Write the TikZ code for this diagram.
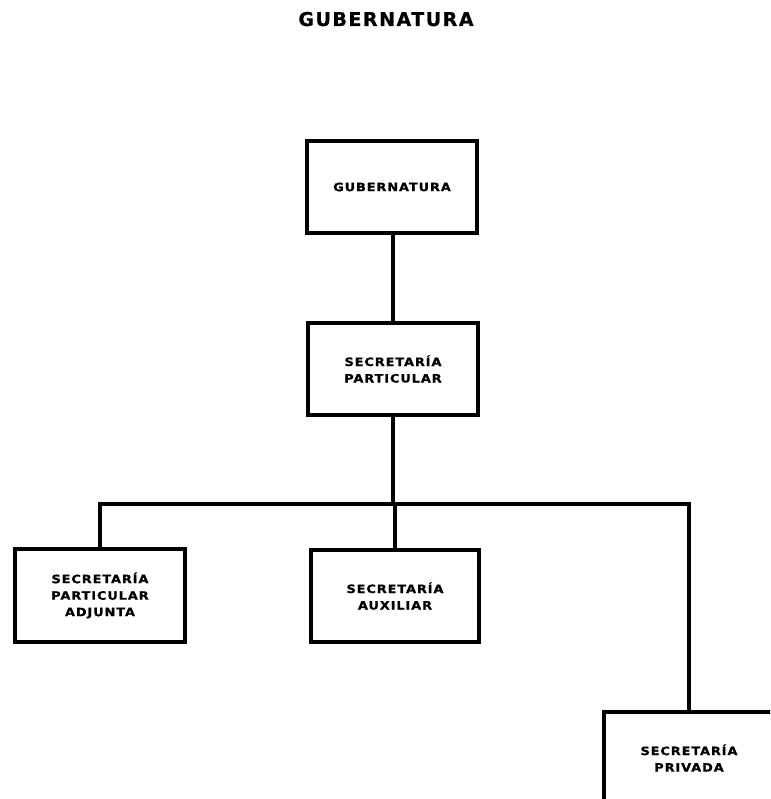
\documentclass[tikz,border=0pt]{standalone}
\usepackage{fontspec}
\newfontfamily\titlefont{DejaVu Sans Bold}[LetterSpace=8, FakeBold=0.5]
\newfontfamily\boxfont{DejaVu Sans Bold}[FakeStretch=1.12, LetterSpace=8, FakeBold=1]
\tikzset{
  orgbox/.style={draw, line width=3.3pt, minimum width=170pt, minimum height=92pt,
    inner sep=0pt, align=center, font=\boxfont\fontsize{11.5}{16.5}\selectfont},
  link/.style={line width=3.3pt}
}
\begin{document}
\begin{tikzpicture}[x=1pt,y=-1pt]
\useasboundingbox (0,0) rectangle (770,799);
\clip (0,0) rectangle (770,799);
\node[anchor=base, font=\titlefont\fontsize{19}{22}\selectfont] (title) at (386,26) {GUBERNATURA};
\node[orgbox] (gub) at (392,187) {GUBERNATURA};
\node[orgbox] (spart) at (393,369) {SECRETARÍA\\PARTICULAR};
\node[orgbox, minimum height=93pt] (adj) at (100,595.5) {SECRETARÍA\\PARTICULAR\\ADJUNTA};
\node[orgbox, minimum width=168pt] (aux) at (395,596) {SECRETARÍA\\AUXILIAR};
\node[orgbox] (priv) at (689,758) {SECRETARÍA\\PRIVADA};
\coordinate (j) at (393,504);
\draw[link] (gub.south -| spart.north) -- (spart.north);
\draw[link] (spart.south) -- (j);
\draw[link] (adj.north) |- (j) -| (priv.north);
\draw[link] (aux.north) -- (aux.north |- j);
\end{tikzpicture}
\end{document}
